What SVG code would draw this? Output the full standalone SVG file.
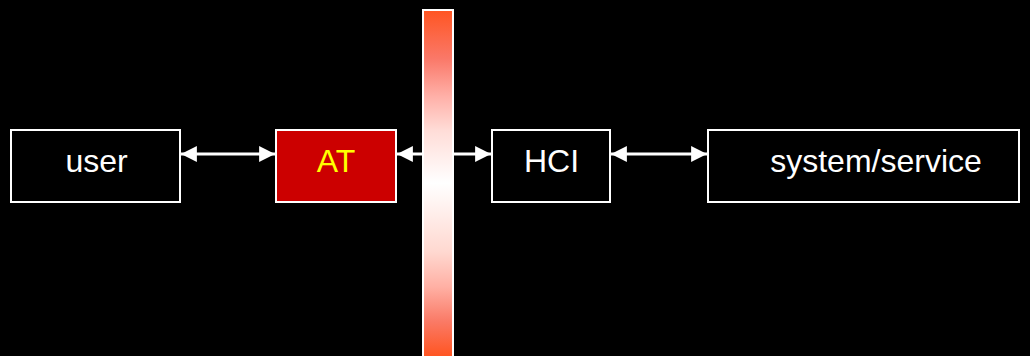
<svg xmlns="http://www.w3.org/2000/svg" width="1030" height="356" viewBox="0 0 1030 356">
<style>
.box{fill:#000;stroke:#fff;stroke-width:2}
.lbl{font-family:"Liberation Sans",Arial,sans-serif;font-size:32px;fill:#fff;text-anchor:middle}
.con{stroke:#fff;stroke-width:3;fill:none;marker-start:url(#ah);marker-end:url(#ah)}
</style>
<defs>
<marker id="ah" viewBox="0 0 10 10" refX="10" refY="5" markerWidth="5.3" markerHeight="5.3" orient="auto-start-reverse" markerUnits="strokeWidth">
<path d="M0,0 L10,5 L0,10 Z" fill="#fff"/>
</marker>
<linearGradient id="bg" gradientUnits="userSpaceOnUse" x1="0" y1="10" x2="0" y2="356">
<stop offset="0" stop-color="#FF5522"/>
<stop offset="0.14" stop-color="#FA7868"/>
<stop offset="0.25" stop-color="#FFB0A8"/>
<stop offset="0.35" stop-color="#FFDDD8"/>
<stop offset="0.5" stop-color="#FFFFFF"/>
<stop offset="0.7" stop-color="#FFD8D0"/>
<stop offset="0.8" stop-color="#FFB0A4"/>
<stop offset="0.9" stop-color="#FA7A66"/>
<stop offset="1" stop-color="#FF5522"/>
</linearGradient>
</defs>
<rect width="1030" height="356" fill="#000"/>
<g id="connectors">
<line class="con" x1="181" y1="154" x2="275" y2="154"/>
<line class="con" x1="397" y1="154" x2="491" y2="154"/>
<line class="con" x1="611" y1="154" x2="707" y2="154"/>
</g>
<g id="bar">
<rect x="423" y="10" width="30" height="356" fill="url(#bg)" stroke="#fff" stroke-width="2"/>
</g>
<g id="user">
<rect class="box" x="11" y="130" width="169" height="72"/>
<text class="lbl" x="96.5" y="172">user</text>
</g>
<g id="at">
<rect class="box" x="276" y="130" width="120" height="72" style="fill:#CC0000"/>
<text class="lbl" x="336" y="172" style="fill:#FFFF00">AT</text>
</g>
<g id="hci">
<rect class="box" x="492" y="130" width="118" height="72"/>
<text class="lbl" x="551.5" y="172">HCI</text>
</g>
<g id="system">
<rect class="box" x="708" y="130" width="311" height="72"/>
<text class="lbl" x="876" y="172">system/service</text>
</g>
</svg>
